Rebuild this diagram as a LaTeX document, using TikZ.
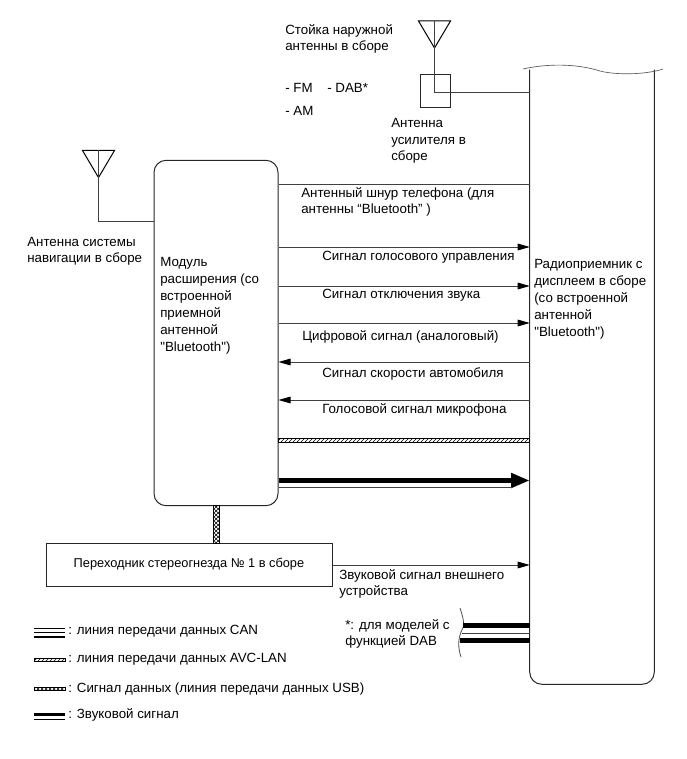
\documentclass[tikz,border=0pt]{standalone}
\usepackage{fontspec}
\setmainfont{Liberation Sans}[Ligatures=TeXOff]
\usetikzlibrary{arrows.meta,patterns}
\tikzset{
	txt/.style={anchor=north west,inner sep=0pt,align=left,font=\fontsize{10}{12.2}\selectfont},
	wide/.style={txt,font=\fontsize{10}{12.75}\selectfont},
	wire/.style={draw=black!75,line width=0.6pt},
	sig/.style={wire,-{Triangle[length=9pt,width=5pt,color=black]}},
	box/.style={draw=black!85,line width=0.75pt,inner sep=0pt},
	hatchband/.style={draw=black,line width=0.5pt,pattern=north east lines},
	crossband/.style={draw=black,line width=0.4pt,pattern=crosshatch},
}
\newcommand\antenna{}
\def\antenna(#1){% \antenna(middle of the top edge)
\draw [line width=0.75pt,shift={(#1)}] (-16,0) -- (16,0) -- (0,27) -- cycle
}

\begin{document}
\begin{tikzpicture}[x=0.75pt,y=-0.75pt]
	\useasboundingbox (0,0) rectangle (686,759);
	%% blocks
	\node[box,rounded corners=9pt,minimum width=93pt,minimum height=259pt] (module) at (216,333) {};
	\node[box,minimum width=214.5pt,minimum height=32.25pt] (adapter) at (189,564.5) {\raisebox{2.25pt}{\fontsize{9.6}{12}\selectfont Переходник стереогнезда № 1 в сборе}};
	\node[box,minimum width=22.5pt,minimum height=24.75pt] (amp) at (435,91.5) {};
	\node[minimum width=93pt,minimum height=460.5pt,inner sep=0pt] (radio) at (592,377) {};
	\draw[box,rounded corners=9pt] (radio.north west) -- (radio.south west) -- (radio.south east) -- (radio.north east);
	\draw[draw=black!65,line width=0.5pt] (523,69) .. controls (545,64) and (575,63) .. (600,71) .. controls (615,75) and (645,75) .. (663,69);
	%% antennas
	\coordinate (navtop) at (98.5,150.5);
	\coordinate (amptop) at (434.5,21);
	\antenna(navtop);
	\antenna(amptop);
	\draw[wire] (navtop) -- (navtop |- 0,221) -- (module.west |- 0,221);
	\draw[wire] (amptop) -- (amptop |- 0,92) -- (radio.west |- 0,92);
	%% signals
	\draw[wire] (module.east |- 0,184) -- (radio.west |- 0,184);
	\draw[sig] (module.east |- 0,247) -- (radio.west |- 0,247);
	\draw[sig] (module.east |- 0,286) -- (radio.west |- 0,286);
	\draw[sig] (module.east |- 0,323) -- (radio.west |- 0,323);
	\draw[sig] (radio.west |- 0,362) -- (module.east |- 0,362);
	\draw[sig] (radio.west |- 0,400) -- (module.east |- 0,400);
	\draw[sig] (adapter.east |- 0,565) -- (radio.west |- 0,565);
	%% buses
	\path[hatchband] (module.east |- 0,438) rectangle (radio.west |- 0,442.5);
	\draw[draw=black,line width=3.6pt,-{Triangle[length=14pt,width=10.5pt]}] (module.east |- 0,480.5) -- (radio.west |- 0,480.5);
	\draw[wire] (module.east |- 0,487) -- (512,487);
	\path[crossband] (213,505.5) rectangle (219,543);
	%% DAB
	\draw[draw=black!70,line width=0.6pt] (460,608) .. controls (464,620) and (465,626) .. (461,632) .. controls (458,640) and (458,648) .. (461,657);
	\draw[line width=3.6pt] (463,625.5) -- (radio.west |- 0,625.5);
	\draw[wire] (462,633) -- (radio.west |- 0,633);
	\draw[line width=3.6pt] (460,640.5) -- (radio.west |- 0,640.5);
	%% legend
	\draw[line width=1.2pt] (34,628.5) -- (65,628.5);
	\draw[line width=0.8pt] (34,632.5) -- (65,632.5);
	\draw[line width=1.8pt] (34,637) -- (65,637);
	\path[hatchband] (34,658) rectangle (65,661.5);
	\path[crossband] (34,687) rectangle (65,690.5);
	\draw[line width=2.6pt] (34,714.5) -- (65,714.5);
	\draw[line width=0.8pt] (34,719.5) -- (65,719.5);
	%% labels
	\node[txt] (mast) at (285,24) {Стойка наружной\\антенны в сборе};
	\node[txt] (fm) at (285,83.5) {- FM};
	\node[txt] (dab) at (327,83.5) {- DAB*};
	\node[txt] (am) at (285,106.5) {- AM};
	\node[txt] (amptext) at (391,118.5) {Антенна\\усилителя в\\сборе};
	\node[txt] (navtext) at (27,237) {Антенна системы\\навигации в сборе};
	\node[wide] (moduletext) at (160,257) {Модуль\\расширения (со\\встроенной\\приемной\\антенной\\"Bluetooth")};
	\node[wide] (radiotext) at (534,259) {Радиоприемник с\\дисплеем в сборе\\(со встроенной\\антенной\\"Bluetooth")};
	\node[txt] (phone) at (301,187.5) {Антенный шнур телефона (для\\антенны “Bluetooth”  )};
	\node[txt] (voice) at (322,251) {Сигнал голосового управления};
	\node[txt] (mute) at (322,289) {Сигнал отключения звука};
	\node[txt] (digital) at (302,330) {Цифровой сигнал (аналоговый)};
	\node[txt] (speed) at (322,367.5) {Сигнал скорости автомобиля};
	\node[txt] (mic) at (322,403) {Голосовой сигнал микрофона};
	\node[txt] (ext) at (339,569.5) {Звуковой сигнал внешнего\\устройства};
	\node[txt] (dabnote) at (345,619) {*: для моделей с\\функцией DAB};
	\node[txt] (lcan) at (68,625) {: линия передачи данных CAN};
	\node[txt] (lavc) at (68,653) {: линия передачи данных AVC-LAN};
	\node[txt] (lusb) at (68,683) {: Сигнал данных (линия передачи данных USB)};
	\node[txt] (laudio) at (68,708) {: Звуковой сигнал};
\end{tikzpicture}
\end{document}
